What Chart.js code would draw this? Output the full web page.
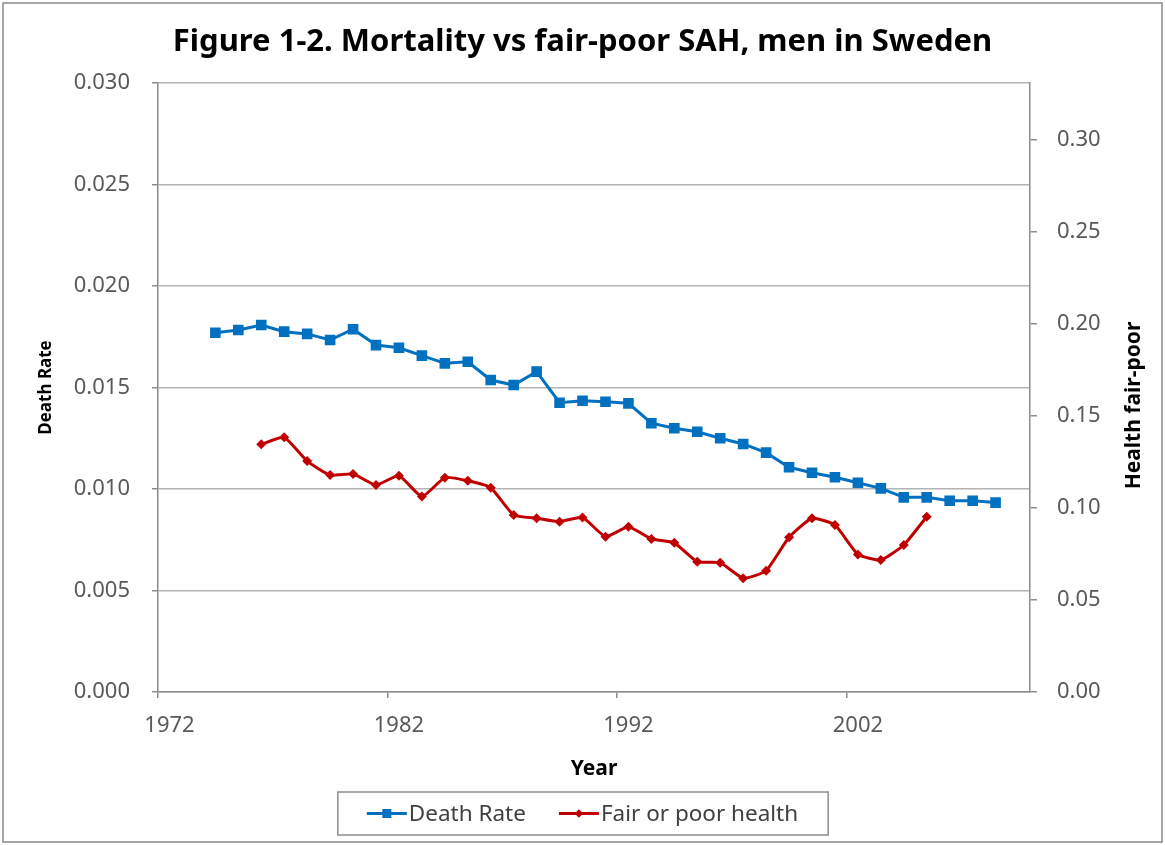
<!DOCTYPE html>
<html><head><meta charset="utf-8">
<script src="https://cdn.jsdelivr.net/npm/chart.js@4.4.1/dist/chart.umd.min.js"></script>
<style>html,body{margin:0;padding:0;background:#fff;}#wrap{width:1165px;height:845px;}</style>
</head><body><div id="wrap"><canvas id="c" width="1165" height="845"></canvas></div>
<script>
const titleText = 'Figure 1-2. Mortality vs fair-poor SAH, men in Sweden';
const xTitle = 'Year';
const leftTitle = 'Death Rate';
const rightTitle = 'Health fair-poor';

const years = ['1972','1973','1974','1975','1976','1977','1978','1979','1980','1981',
  '1982','1983','1984','1985','1986','1987','1988','1989','1990','1991',
  '1992','1993','1994','1995','1996','1997','1998','1999','2000','2001',
  '2002','2003','2004','2005','2006','2007','2008','2009'];
const xLabelYears = ['1972','1982','1992','2002'];

const deathYears = ['1974','1975','1976','1977','1978','1979','1980','1981','1982','1983',
  '1984','1985','1986','1987','1988','1989','1990','1991','1992','1993',
  '1994','1995','1996','1997','1998','1999','2000','2001','2002','2003',
  '2004','2005','2006','2007','2008'];
const deathRate = [0.01770,0.01783,0.01808,0.01775,0.01764,0.01734,0.01787,0.01709,0.01696,0.01657,
  0.01619,0.01627,0.01537,0.01512,0.01578,0.01425,0.01435,0.01430,0.01422,0.01324,
  0.01299,0.01282,0.01250,0.01222,0.01179,0.01107,0.01080,0.01058,0.01031,0.01003,
  0.00959,0.00959,0.00942,0.00942,0.00933];

const healthYears = ['1976','1977','1978','1979','1980','1981','1982','1983','1984','1985',
  '1986','1987','1988','1989','1990','1991','1992','1993','1994','1995',
  '1996','1997','1998','1999','2000','2001','2002','2003','2004','2005'];
const fairPoorHealth = [0.1346,0.1384,0.1255,0.1179,0.1185,0.1125,0.1176,0.1062,0.1165,0.1148,
  0.1110,0.0962,0.0944,0.0926,0.0949,0.0844,0.0898,0.0832,0.0811,0.0708,
  0.0703,0.0618,0.0659,0.0841,0.0944,0.0908,0.0748,0.0717,0.0799,0.0953];

const leftTicks = [0, 0.005, 0.010, 0.015, 0.020, 0.025, 0.030];
const rightTicks = [0, 0.05, 0.10, 0.15, 0.20, 0.25, 0.30];

const FONT = "'Noto Sans', 'Open Sans', sans-serif";
const AXIS = '#8c8c8c';
const GRID = '#b4b4b4';
const TXT = '#595959';

const framePlugin = {
  id: 'frame',
  beforeDraw(chart) {
    const c = chart.ctx;
    c.save();
    c.fillStyle = '#fff';
    c.fillRect(0, 0, chart.width, chart.height);
    c.strokeStyle = '#8a8a8a';
    c.lineWidth = 1.5;
    c.strokeRect(3, 3, 1159, 839);
    c.restore();
  }
};

const rightTitlePlugin = {
  id: 'rightTitle',
  afterDraw(chart) {
    const c = chart.ctx, a = chart.chartArea;
    c.save();
    c.translate(1134, (a.top + a.bottom) / 2 + 18);
    c.rotate(-Math.PI / 2);
    c.font = `bold 21px ${FONT}`;
    c.fillStyle = '#000';
    c.textAlign = 'center';
    c.textBaseline = 'middle';
    c.fillText(rightTitle, 0, 0);
    c.restore();
  }
};

const legendPlugin = {
  id: 'xlLegend',
  afterDraw(chart) {
    const c = chart.ctx;
    c.save();
    c.font = `22.5px ${FONT}`;
    const items = chart.data.datasets.map(ds => ({
      label: ds.label, color: ds.borderColor, style: ds.pointStyle, r: ds.pointRadius,
      w: c.measureText(ds.label).width
    }));
    const lineLen = 40, textGap = 2, itemGap = 33, padL = 29, padR = 30;
    let total = padL + padR + itemGap * (items.length - 1);
    items.forEach(it => total += lineLen + textGap + it.w);
    const cx = 583, top = 792, h = 43;
    const x0 = cx - total / 2;
    c.strokeStyle = AXIS;
    c.lineWidth = 1.5;
    c.strokeRect(x0, top, total, h);
    const yc = top + h / 2;
    let x = x0 + padL;
    items.forEach(it => {
      c.strokeStyle = it.color;
      c.lineWidth = 3;
      c.beginPath();
      c.moveTo(x, yc);
      c.lineTo(x + lineLen, yc);
      c.stroke();
      c.fillStyle = it.color;
      Chart.helpers.drawPoint(c, {pointStyle: it.style, radius: it.r * 0.85, rotation: 0, borderWidth: 0}, x + lineLen / 2, yc);
      c.fillStyle = '#404040';
      c.textAlign = 'left';
      c.textBaseline = 'middle';
      c.fillText(it.label, x + lineLen + textGap, yc + 1);
      x += lineLen + textGap + it.w + itemGap;
    });
    c.restore();
  }
};

new Chart(document.getElementById('c'), {
  type: 'line',
  data: {
    labels: years,
    datasets: [
      {
        label: 'Death Rate',
        data: deathYears.map((yr, i) => ({x: yr, y: deathRate[i]})),
        yAxisID: 'y',
        borderColor: '#0070C0',
        backgroundColor: '#0070C0',
        borderWidth: 3,
        pointStyle: 'rect',
        pointRadius: 7.5,
        pointBorderWidth: 0,
        tension: 0
      },
      {
        label: 'Fair or poor health',
        data: healthYears.map((yr, i) => ({x: yr, y: fairPoorHealth[i]})),
        yAxisID: 'y1',
        borderColor: '#C00000',
        backgroundColor: '#C00000',
        borderWidth: 3,
        pointStyle: 'rectRot',
        pointRadius: 5,
        pointBorderWidth: 0,
        tension: 0.15
      }
    ]
  },
  options: {
    responsive: false,
    animation: false,
    devicePixelRatio: 1,
    layout: {padding: 0},
    plugins: {
      legend: {display: false},
      tooltip: {enabled: false},
      title: {
        display: true, text: titleText, color: '#000',
        font: {family: FONT, size: 31, weight: 'bold'},
        padding: {top: 23.4, bottom: 22.4}
      }
    },
    scales: {
      x: {
        type: 'category',
        offset: true,
        grid: {
          offset: true, drawOnChartArea: false, drawTicks: true, tickLength: 6, lineWidth: 1.5,
          color: ctx => (ctx.index % 10 === 0 && ctx.index < years.length) ? AXIS : 'rgba(0,0,0,0)'
        },
        border: {display: true, color: AXIS, width: 1.5},
        ticks: {
          autoSkip: false, maxRotation: 0, minRotation: 0, padding: 15, color: TXT,
          font: {family: FONT, size: 22},
          callback: function (v) { const l = this.getLabelForValue(v); return xLabelYears.includes(l) ? l : ''; }
        },
        title: {display: true, text: xTitle, color: '#000', font: {family: FONT, size: 21, weight: 'bold'}, padding: {top: 0, bottom: 63}},
        afterFit: s => { s.height = 153; }
      },
      y: {
        position: 'left', min: 0, max: 0.03,
        afterBuildTicks: s => { s.ticks = leftTicks.map(v => ({value: v})); },
        ticks: {padding: 22, color: TXT, font: {family: FONT, size: 22}, callback: v => v.toFixed(3)},
        grid: {color: GRID, lineWidth: 1.5, tickLength: 6, tickColor: AXIS, drawTicks: true},
        border: {color: AXIS, width: 1.5},
        title: {display: true, text: leftTitle, color: '#000', font: {family: FONT, size: 17, weight: 'bold'}, padding: {top: 36, bottom: 0}},
        afterFit: s => { s.width = 158; }
      },
      y1: {
        position: 'right', min: 0, max: 0.331,
        afterBuildTicks: s => { s.ticks = rightTicks.map(v => ({value: v})); },
        ticks: {padding: 20, color: TXT, font: {family: FONT, size: 22}, callback: v => v.toFixed(2)},
        grid: {drawOnChartArea: false, tickLength: 7, color: AXIS, tickColor: AXIS, lineWidth: 1.5},
        border: {color: AXIS, width: 1.5},
        afterFit: s => { s.width = 135; }
      }
    }
  },
  plugins: [framePlugin, rightTitlePlugin, legendPlugin]
});
</script></body></html>
